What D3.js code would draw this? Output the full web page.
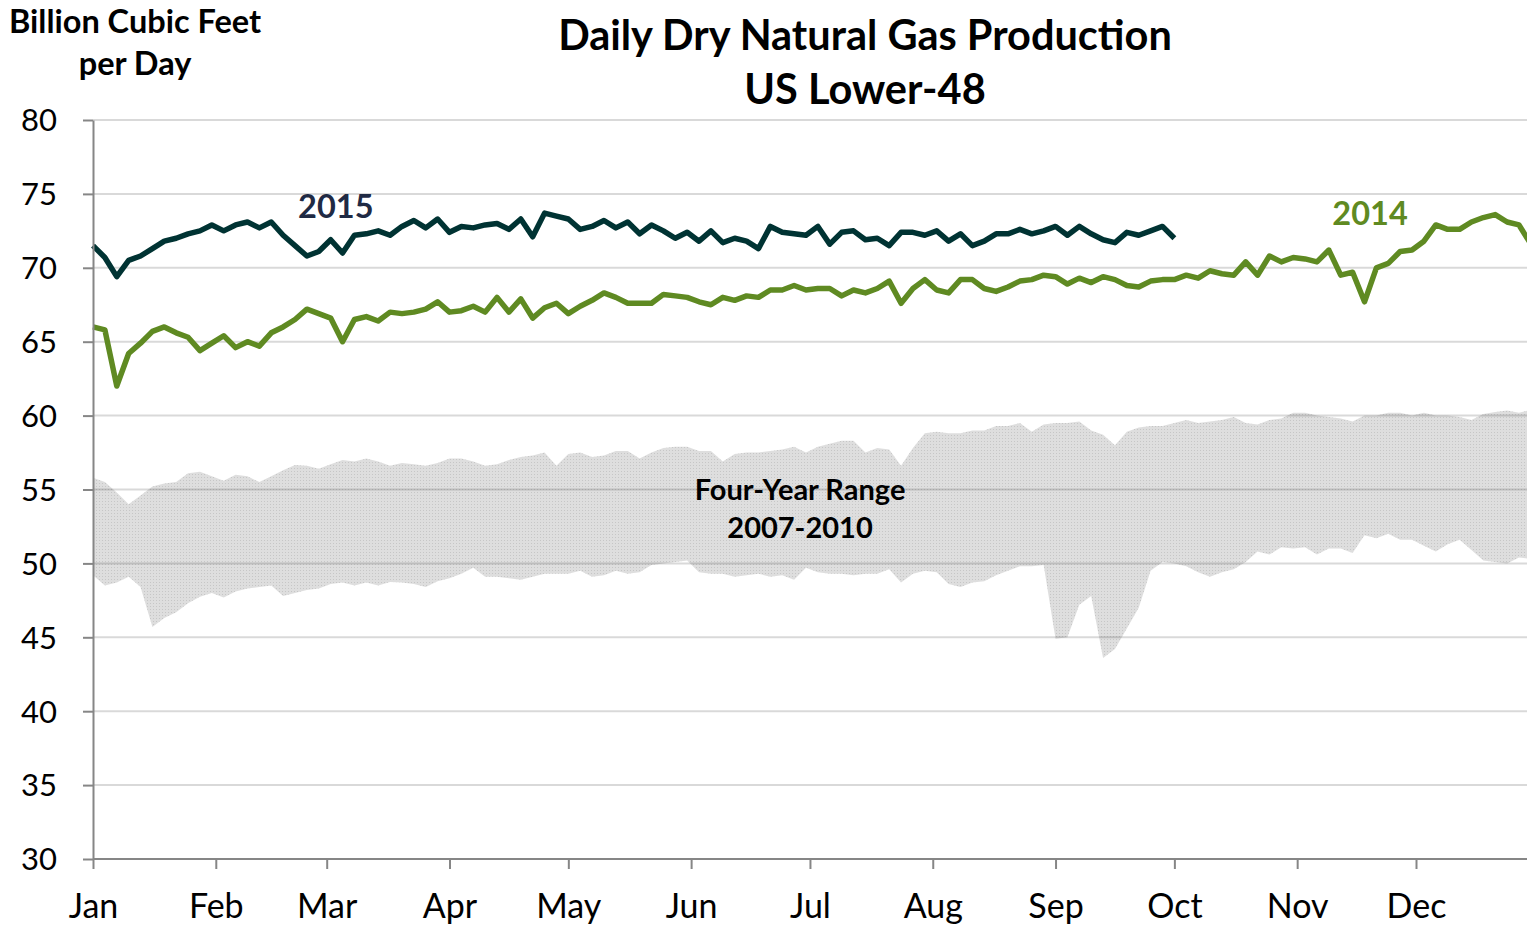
<!DOCTYPE html>
<meta charset="utf-8">
<style type="text/css">
body { margin: 0; background: #fff; }
svg text { font-family: Lato, "Open Sans", sans-serif; }
.axis text { font-size: 31px; fill: #000; }
.xaxis text { font-size: 34px; }
.axis path, .axis line { stroke: #868686; stroke-width: 2; }
.grid line { stroke: #000; stroke-opacity: 0.15; stroke-width: 2; }
.line2015 { fill: none; stroke: #003333; stroke-width: 5.5; stroke-linejoin: round; }
.line2014 { fill: none; stroke: #5f8a22; stroke-width: 5.5; stroke-linejoin: round; }
.title { font-size: 41.5px; font-weight: bold; text-anchor: middle; }
.unit { font-size: 32.5px; font-weight: bold; text-anchor: middle; }
.year { font-size: 32.5px; font-weight: bold; text-anchor: middle; }
.note { font-size: 29px; font-weight: bold; text-anchor: middle; }
</style>
<body>
</body>
<script src="https://d3js.org/d3.v7.min.js"></script>
<script>
// days from Jan 1, one point every 3 days
var days = d3.range(0, 366, 3);

var months = ["Jan", "Feb", "Mar", "Apr", "May", "Jun", "Jul", "Aug", "Sep", "Oct", "Nov", "Dec"];
var monthStart = [0, 31, 59, 90, 120, 151, 181, 212, 243, 273, 304, 334];
var yTicks = [30, 35, 40, 45, 50, 55, 60, 65, 70, 75, 80];

// Bcf/d, 2015 stops at end of September
var prod2015 = [71.5,70.7,69.4,70.5,70.8,71.3,71.8,72.0,72.3,72.5,
  72.9,72.5,72.9,73.1,72.7,73.1,72.2,71.5,70.8,71.1,
  71.9,71.0,72.2,72.3,72.5,72.2,72.8,73.2,72.7,73.3,
  72.4,72.8,72.7,72.9,73.0,72.6,73.3,72.1,73.7,73.5,
  73.3,72.6,72.8,73.2,72.7,73.1,72.3,72.9,72.5,72.0,
  72.4,71.8,72.5,71.7,72.0,71.8,71.3,72.8,72.4,72.3,
  72.2,72.8,71.6,72.4,72.5,71.9,72.0,71.5,72.4,72.4,
  72.2,72.5,71.8,72.3,71.5,71.8,72.3,72.3,72.6,72.3,
  72.5,72.8,72.2,72.8,72.3,71.9,71.7,72.4,72.2,72.5,
  72.8,72.0];

var prod2014 = [66.0,65.8,62.0,64.2,64.9,65.7,66.0,65.6,65.3,64.4,
  64.9,65.4,64.6,65.0,64.7,65.6,66.0,66.5,67.2,66.9,
  66.6,65.0,66.5,66.7,66.4,67.0,66.9,67.0,67.2,67.7,
  67.0,67.1,67.4,67.0,68.0,67.0,67.9,66.6,67.3,67.6,
  66.9,67.4,67.8,68.3,68.0,67.6,67.6,67.6,68.2,68.1,
  68.0,67.7,67.5,68.0,67.8,68.1,68.0,68.5,68.5,68.8,
  68.5,68.6,68.6,68.1,68.5,68.3,68.6,69.1,67.6,68.6,
  69.2,68.5,68.3,69.2,69.2,68.6,68.4,68.7,69.1,69.2,
  69.5,69.4,68.9,69.3,69.0,69.4,69.2,68.8,68.7,69.1,
  69.2,69.2,69.5,69.3,69.8,69.6,69.5,70.4,69.5,70.8,
  70.4,70.7,70.6,70.4,71.2,69.5,69.7,67.7,70.0,70.3,
  71.1,71.2,71.8,72.9,72.6,72.6,73.1,73.4,73.6,73.1,
  72.9,71.6];

// four-year range 2007-2010
var rangeHigh = [55.8,55.5,54.8,54.0,54.6,55.2,55.4,55.5,56.1,56.2,
  55.9,55.6,56.0,55.9,55.5,55.9,56.3,56.65,56.6,56.4,
  56.7,57.0,56.9,57.1,56.9,56.6,56.8,56.7,56.6,56.8,
  57.1,57.1,56.9,56.6,56.7,57.0,57.2,57.3,57.5,56.6,
  57.4,57.5,57.2,57.3,57.6,57.6,57.1,57.5,57.8,57.9,
  57.9,57.6,57.6,56.9,57.4,57.5,57.5,57.6,57.7,57.9,
  57.5,57.9,58.1,58.3,58.3,57.5,57.8,57.7,56.6,57.8,
  58.8,58.9,58.8,58.8,59.0,59.0,59.3,59.3,59.5,58.9,
  59.4,59.5,59.5,59.6,59.0,58.7,58.0,58.9,59.2,59.3,
  59.3,59.5,59.7,59.5,59.6,59.7,59.9,59.5,59.4,59.7,
  59.8,60.2,60.2,60.0,59.9,59.8,59.6,60.0,60.0,60.2,
  60.2,60.0,60.2,60.0,60.0,59.9,59.7,60.1,60.25,60.35,
  60.2,60.4];

var rangeLow = [49.2,48.5,48.7,49.1,48.4,45.7,46.3,46.7,47.3,47.75,
  48.0,47.7,48.1,48.3,48.4,48.5,47.8,48.0,48.2,48.3,
  48.6,48.7,48.5,48.7,48.5,48.75,48.7,48.6,48.4,48.8,
  49.0,49.3,49.7,49.1,49.1,49.0,48.9,49.1,49.3,49.3,
  49.3,49.5,49.1,49.2,49.5,49.3,49.4,49.9,50.0,50.1,
  50.2,49.4,49.3,49.3,49.1,49.2,49.3,49.1,49.2,48.9,
  49.7,49.4,49.3,49.3,49.2,49.3,49.3,49.6,48.7,49.3,
  49.5,49.4,48.6,48.4,48.7,48.8,49.2,49.5,49.8,49.8,
  49.9,44.9,45.0,47.2,47.8,43.6,44.2,45.6,47.0,49.5,
  50.1,50.0,49.8,49.4,49.1,49.4,49.6,50.1,50.8,50.6,
  51.1,51.0,51.1,50.6,51.0,51.0,50.7,51.9,51.7,52.0,
  51.6,51.6,51.2,50.8,51.3,51.6,50.9,50.2,50.1,50.0,
  50.4,50.3];

var width = 1527, height = 926;

var svg = d3.select("body").append("svg")
    .attr("width", width)
    .attr("height", height);

var xScale = d3.scaleLinear().domain([0, 334]).range([93, 1416]);
var yScale = d3.scaleLinear().domain([30, 80]).range([859, 120]);

// dotted fill for the range band
var pat = svg.append("defs").append("pattern")
    .attr("id", "dots")
    .attr("patternUnits", "userSpaceOnUse")
    .attr("width", 3).attr("height", 3);
pat.append("rect").attr("width", 3).attr("height", 3).attr("fill", "#dedede");
pat.append("rect").attr("width", 1).attr("height", 1).attr("fill", "#c6c6c6");

var band = d3.area()
    .x(function(d, i) { return xScale(days[i]); })
    .y0(function(d, i) { return yScale(rangeLow[i]); })
    .y1(function(d) { return yScale(d); });

svg.append("path")
    .datum(rangeHigh)
    .attr("fill", "url(#dots)")
    .attr("d", band);

// gridlines
svg.append("g")
    .attr("class", "grid")
    .selectAll("line")
    .data(yTicks.filter(function(t) { return t > 30; }))
    .enter().append("line")
    .attr("x1", xScale(0)).attr("x2", width)
    .attr("y1", function(d) { return yScale(d); })
    .attr("y2", function(d) { return yScale(d); });

var line = d3.line()
    .x(function(d, i) { return xScale(days[i]); })
    .y(function(d) { return yScale(d); });

svg.append("path").datum(prod2014).attr("class", "line2014").attr("d", line);
svg.append("path").datum(prod2015).attr("class", "line2015").attr("d", line);

// axes
svg.append("g")
    .attr("class", "axis")
    .attr("transform", "translate(" + xScale(0) + ",0)")
    .call(d3.axisLeft(yScale).tickValues(yTicks).tickSize(10).tickSizeOuter(0).tickPadding(26))
    .call(function(g) { g.selectAll("text").attr("dy", "0.35em"); });

var xAxis = svg.append("g")
    .attr("class", "axis xaxis")
    .attr("transform", "translate(0," + yScale(30) + ")")
    .call(d3.axisBottom(xScale).tickValues(monthStart).tickSize(10).tickSizeOuter(0).tickPadding(25)
        .tickFormat(function(d, i) { return months[i]; }));
xAxis.select(".domain").attr("d", "M" + xScale(0) + ",0H" + width);

// titles
svg.append("text").attr("class", "title").attr("x", 865).attr("y", 50).text("Daily Dry Natural Gas Production");
svg.append("text").attr("class", "title").attr("x", 865).attr("y", 104).text("US Lower-48");
svg.append("text").attr("class", "unit").attr("x", 135).attr("y", 33).text("Billion Cubic Feet");
svg.append("text").attr("class", "unit").attr("x", 135).attr("y", 75).text("per Day");

// series labels
svg.append("text").attr("class", "year").attr("fill", "#1f2a44")
    .attr("x", xScale(61.3)).attr("y", yScale(73.4)).text("2015");
svg.append("text").attr("class", "year").attr("fill", "#5f8a22")
    .attr("x", xScale(322.4)).attr("y", yScale(72.9)).text("2014");
svg.append("text").attr("class", "note").attr("x", xScale(178.5)).attr("y", yScale(54.3)).text("Four-Year Range");
svg.append("text").attr("class", "note").attr("x", xScale(178.5)).attr("y", yScale(51.7)).text("2007-2010");
</script>
